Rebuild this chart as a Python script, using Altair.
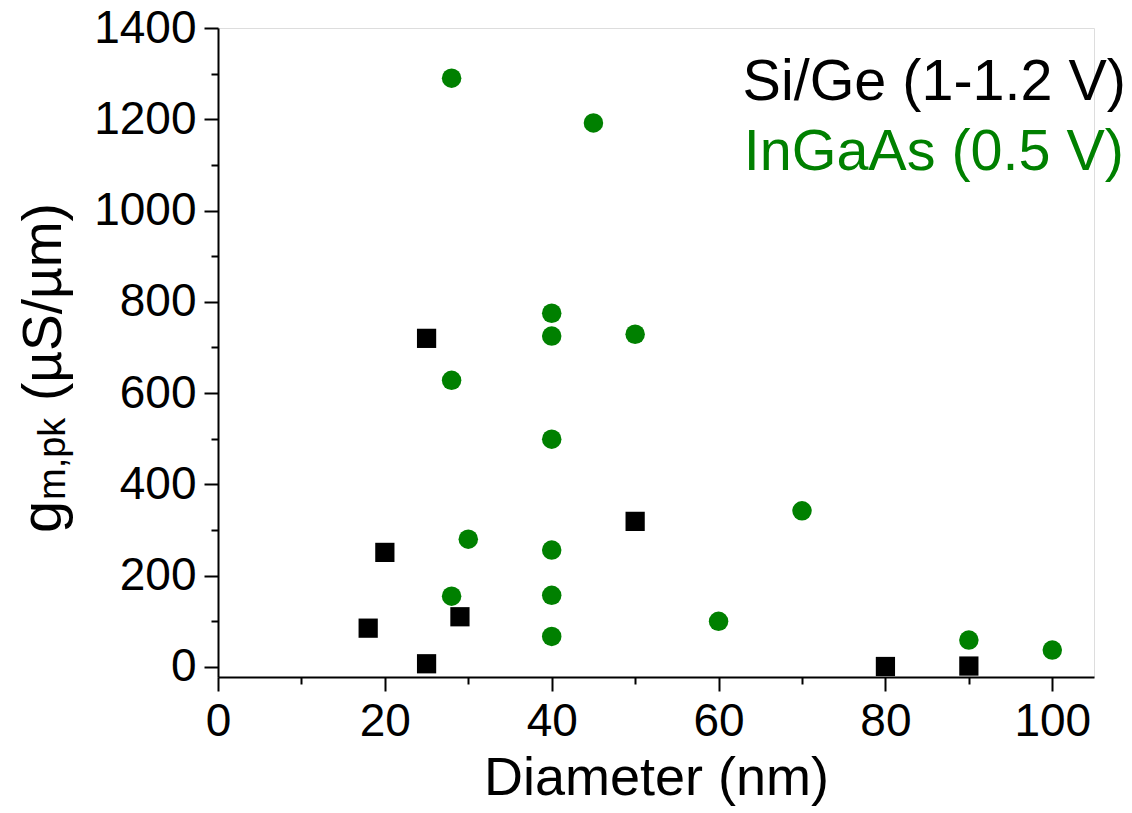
import altair as alt
import pandas as pd

# Si/Ge (black squares)
sige_d = [18, 20, 25, 25, 29, 50, 80, 90]
sige_g = [85, 251, 720, 7, 110, 319, 1, 2]
# InGaAs (green circles)
ingaas_d = [28, 45, 40, 40, 50, 28, 40, 70, 30, 40, 28, 40, 40, 60, 90, 100]
ingaas_g = [1290, 1192, 775, 725, 729, 628, 499, 342, 280, 256, 155, 157, 67, 100, 59, 37]

x_major = [0, 20, 40, 60, 80, 100]
x_minor = [10, 30, 50, 70, 90]
y_major = [0, 200, 400, 600, 800, 1000, 1200, 1400]
y_minor = [100, 300, 500, 700, 900, 1100, 1300]

legend_labels = ["Si/Ge (1-1.2 V)", "InGaAs (0.5 V)"]
legend_colors = ["#000000", "#008000"]
ytitle_parts = ["g", "m,pk", "(\u00b5S/\u00b5m)"]

FONT = "Liberation Sans"
GREEN = "#008000"

df_s = pd.DataFrame({"d": sige_d, "g": sige_g})
df_i = pd.DataFrame({"d": ingaas_d, "g": ingaas_g})

xscale = alt.Scale(domain=[0, 105], nice=False, zero=False)
yscale = alt.Scale(domain=[-22, 1400], nice=False, zero=False)

common_axis = dict(grid=False, domainColor="black", tickColor="black",
                   domainWidth=2, tickWidth=2, labelColor="black",
                   labelFont=FONT, titleFont=FONT)

squares = alt.Chart(df_s).mark_point(shape="square", filled=True, size=370,
                                     color="black", opacity=1).encode(
    x=alt.X("d:Q", scale=xscale,
            axis=alt.Axis(values=x_major, tickSize=14, labelFontSize=46,
                          labelPadding=8, title="Diameter (nm)", format="d",
                          titleFontSize=54, titleFontWeight="normal",
                          titleColor="black", titlePadding=7, orient="bottom",
                          labelFlush=False, labelOverlap=False, **common_axis)),
    y=alt.Y("g:Q", scale=yscale,
            axis=alt.Axis(values=y_major, tickSize=14, labelFontSize=46,
                          labelPadding=8, title=None, orient="left", format="d",
                          labelFlush=False, labelOverlap=False, **common_axis)),
)

circles = alt.Chart(df_i).mark_point(shape="circle", filled=True, size=380,
                                     color=GREEN, opacity=1).encode(
    x=alt.X("d:Q", scale=xscale,
            axis=alt.Axis(values=x_minor, tickSize=7, labels=False, domain=False,
                          title=None, orient="bottom", **common_axis)),
    y=alt.Y("g:Q", scale=yscale,
            axis=alt.Axis(values=y_minor, tickSize=7, labels=False, domain=False,
                          title=None, orient="left", **common_axis)),
)

def txt(s, x, y, size, color="black", angle=0, align="left"):
    return alt.Chart(pd.DataFrame({"t": [s]})).mark_text(
        font=FONT, fontSize=size, color=color, angle=angle, align=align,
        baseline="alphabetic").encode(text="t:N", x=alt.value(x), y=alt.value(y))

leg1 = txt(legend_labels[0], 908, 72, 57.5, legend_colors[0], align="right")
leg2 = txt(legend_labels[1], 906, 142, 57.5, legend_colors[1], align="right")

yt1 = txt(ytitle_parts[0], -157, 505, 58, angle=270)
yt2 = txt(ytitle_parts[1], -153, 472, 38, angle=270)
yt3 = txt(ytitle_parts[2], -157, 373, 55, angle=270)

chart = alt.layer(squares, circles, leg1, leg2, yt1, yt2, yt3).resolve_axis(
    x="independent", y="independent"
).properties(
    width=876, height=649,
    autosize=alt.AutoSizeParams(type="none"),
    padding={"left": 218, "top": 28, "right": 38, "bottom": 136},
).configure_view(stroke=None).configure(background="white")

chart.save("out.html", embed_options={"renderer": "svg", "actions": False})
